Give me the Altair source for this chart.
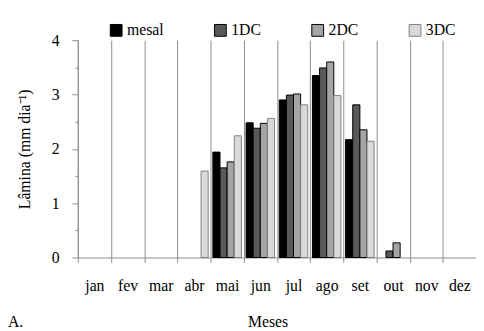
import altair as alt
import pandas as pd

months = ["jan", "fev", "mar", "abr", "mai", "jun", "jul", "ago", "set", "out", "nov", "dez"]
series = ["mesal", "1DC", "2DC", "3DC"]
colors = ["#000000", "#595959", "#a5a5a5", "#d9d9d9"]
strokes = ["#000000", "#000000", "#000000", "#808080"]

mesal = [None, None, None, None, 1.94, 2.48, 2.90, 3.35, 2.17, None, None, None]
dc1 = [None, None, None, None, 1.65, 2.38, 2.99, 3.49, 2.81, 0.12, None, None]
dc2 = [None, None, None, None, 1.76, 2.47, 3.01, 3.60, 2.35, 0.27, None, None]
dc3 = [None, None, None, 1.59, 2.24, 2.56, 2.81, 2.98, 2.14, None, None, None]

y_ticks = [0, 0.5, 1, 1.5, 2, 2.5, 3, 3.5, 4]

rows = []
for name, vals in zip(series, [mesal, dc1, dc2, dc3]):
    for m, v in zip(months, vals):
        if v is not None:
            rows.append({"mes": m, "serie": name, "lamina": v})
df = pd.DataFrame(rows)

FONT = "Liberation Serif"

bars = alt.Chart(df).mark_bar(strokeWidth=1).encode(
    x=alt.X(
        "mes:N",
        sort=months,
        scale=alt.Scale(domain=months, paddingInner=0, paddingOuter=0),
        axis=alt.Axis(
            title="Meses",
            labelAngle=0,
            labelFont=FONT,
            labelFontSize=16,
            labelColor="#000000",
            labelPadding=16,
            tickBand="extent",
            tickSize=5,
            tickColor="#8c8c8c",
            domainColor="#8c8c8c",
            grid=True,
            gridColor="#8c8c8c",
            gridWidth=1,
            titleFont=FONT,
            titleFontSize=16,
            titleFontWeight="normal",
            titleColor="#000000",
            titlePadding=20,
            titleX=193,
        ),
    ),
    xOffset=alt.XOffset(
        "serie:N",
        sort=series,
        scale=alt.Scale(domain=series, paddingInner=0, paddingOuter=0.33),
    ),
    y=alt.Y(
        "lamina:Q",
        scale=alt.Scale(domain=[0, 4], nice=False),
        axis=alt.Axis(
            title="Lâmina (mm dia⁻¹)",
            values=y_ticks,
            labelExpr="datum.value % 1 === 0 ? format(datum.value, 'd') : ''",
            labelFont=FONT,
            labelFontSize=16,
            labelColor="#000000",
            labelPadding=13,
            tickSize={"condition": {"test": "datum.value % 1 === 0", "value": 6}, "value": 3},
            tickColor="#8c8c8c",
            domainColor="#8c8c8c",
            grid=False,
            titleFont=FONT,
            titleFontSize=16,
            titleFontWeight="normal",
            titleColor="#000000",
            titlePadding=19,
        ),
    ),
    fill=alt.Fill(
        "serie:N",
        sort=series,
        scale=alt.Scale(domain=series, range=colors),
        legend=alt.Legend(
            title=None,
            orient="none",
            direction="horizontal",
            legendX=31,
            legendY=-18,
            symbolType="square",
            symbolSize=144,
            symbolStrokeColor="#000000",
            symbolStrokeWidth=1,
            symbolOpacity=1,
            labelFont=FONT,
            labelFontSize=16,
            labelColor="#000000",
            labelOffset=3,
            columnPadding=49,
            padding=0,
        ),
    ),
    stroke=alt.Stroke(
        "serie:N",
        sort=series,
        scale=alt.Scale(domain=series, range=strokes),
        legend=None,
    ),
)

label_a = alt.Chart(pd.DataFrame({"t": ["A."]})).mark_text(
    align="left", baseline="alphabetic", font=FONT, fontSize=16, color="#000000"
).encode(x=alt.value(-71), y=alt.value(292), text="t:N")

chart = alt.layer(bars, label_a).properties(
    width=405,
    height=221,
    padding={"left": 71, "top": 30, "right": 0, "bottom": 72},
    autosize=alt.AutoSizeParams(type="none"),
).configure_view(stroke=None)

chart.save("out.html", embed_options={"renderer": "svg", "actions": False})
